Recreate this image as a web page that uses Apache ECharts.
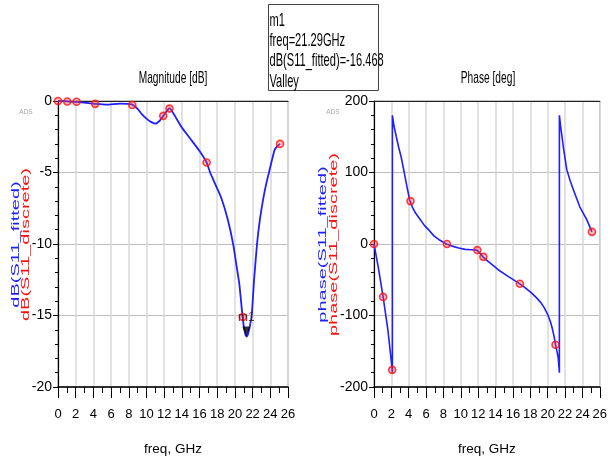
<!DOCTYPE html>
<html>
<head>
<meta charset="utf-8">
<script src="https://cdn.jsdelivr.net/npm/echarts@6/dist/echarts.min.js"></script>
<style>
html,body{margin:0;padding:0;background:#fff;}
#chart{width:610px;height:461px;}
</style>
</head>
<body>
<div id="chart"></div>
<script>
// ---- data ----
const xTicks = [0, 2, 4, 6, 8, 10, 12, 14, 16, 18, 20, 22, 24, 26];
const magTicks = [-20, -15, -10, -5, 0];
const phaseTicks = [-200, -100, 0, 100, 200];

const magFreq = [0, 1, 2, 3, 4.2, 5.5, 7, 8.4, 9, 9.5, 10, 10.5, 11, 11.5, 11.9, 12.3, 12.6, 13, 14, 15, 16, 16.8, 17.2, 17.8, 18.5, 19.2, 19.8, 20.2, 20.5, 20.85, 21.0, 21.15, 21.29, 21.45, 21.6, 21.75, 21.9, 22.15, 22.5, 22.8, 23.2, 23.5, 23.85, 24.2, 24.5, 24.8, 25.1];
const magFitted = [0, -0.03, -0.06, -0.12, -0.2, -0.26, -0.18, -0.25, -0.55, -0.93, -1.23, -1.46, -1.58, -1.38, -1.04, -0.7, -0.5, -0.82, -1.86, -2.67, -3.5, -4.3, -5.0, -5.85, -6.85, -8.3, -10, -11.6, -12.8, -15, -15.75, -16.25, -16.468, -16.35, -16.0, -15.55, -15, -12.65, -10, -8.4, -6.85, -5.9, -5.0, -4.1, -3.4, -3.15, -3.0];

const phaseFreq = [0, 0.5, 1.05, 1.6, 2.1, 2.12, 2.12, 2.3, 2.57, 2.85, 3.14, 3.45, 3.8, 4.1, 4.4, 4.8, 5.22, 5.8, 6.36, 6.93, 7.49, 8.35, 9.0, 9.76, 10.5, 11.2, 11.85, 12.2, 12.55, 13.0, 13.6, 14.3, 15.4, 16.75, 17.5, 18.1, 18.7, 19.22, 19.6, 19.98, 20.3, 20.55, 20.75, 20.9, 21.1, 21.2, 21.3, 21.35, 21.35, 21.38, 21.5, 21.85, 22.2, 22.6, 22.96, 23.7, 24.5, 25.1];
const phaseFitted = [0, -33, -74, -120, -176, -180, 180, 165, 150, 135, 121, 102, 80, 62, 52, 43, 36, 26, 19, 11, 6, 0, -3, -5.6, -7.5, -8, -8.5, -13, -18, -23, -29, -36, -45, -55.5, -62, -68, -75, -82, -89, -98, -108, -119, -130, -141, -152, -158, -172, -180, 180, 178, 164, 132, 104, 88, 76, 52, 34, 17];

const discreteFreq = [0, 1.05, 2.1, 4.2, 8.4, 11.9, 12.6, 16.8, 20.9, 25.1];
const magDiscrete = [0, -0.03, -0.05, -0.2, -0.28, -1.04, -0.53, -4.3, -15.1, -3.0];
const phaseDiscrete = [0, -74, -176, 60, 0, -8.5, -18, -55.5, -141, 17];

const markerName = 'm1';
const markerFreq = 21.29;
const markerValue = -16.468;
const markerType = 'Valley';

// ---- styling ----
const REG = '"Liberation Sans",Arial,sans-serif';
const BLUE = '#1f1fff';
const RED = '#ff1010';

const zip = (a, b) => a.map((v, i) => [v, b[i]]);

const chart = echarts.init(document.getElementById('chart'));

function bottomX(gridIndex) {
  return {
    gridIndex, type: 'value', min: xTicks[0], max: xTicks[xTicks.length - 1], interval: xTicks[1] - xTicks[0],
    axisLine: { show: true, onZero: false, lineStyle: { color: '#000', width: 1.5 } },
    axisTick: { show: true, length: 11, lineStyle: { color: '#000', width: 1 } },
    minorTick: { show: true, splitNumber: 2, length: 6, lineStyle: { color: '#000', width: 1 } },
    splitLine: { show: true, lineStyle: { color: '#d9d9d9', width: 1.5 } },
    axisLabel: { color: '#000', fontFamily: REG, fontSize: 13, margin: 21 },
    name: 'freq, GHz', nameLocation: 'middle', nameGap: 55,
    nameTextStyle: { color: '#000', fontFamily: REG, fontSize: 13.5 }
  };
}
function topX(gridIndex) {
  return {
    gridIndex, type: 'value', position: 'top', min: xTicks[0], max: xTicks[xTicks.length - 1],
    axisLine: { show: true, onZero: false, lineStyle: { color: '#222', width: 1.2 } },
    axisTick: { show: false }, axisLabel: { show: false }, splitLine: { show: false }
  };
}
function leftY(gridIndex, ticks) {
  return {
    gridIndex, type: 'value', min: ticks[0], max: ticks[ticks.length - 1], interval: ticks[1] - ticks[0],
    axisLine: { show: true, onZero: false, lineStyle: { color: '#000', width: 1.2 } },
    axisTick: { show: true, length: 5, lineStyle: { color: '#000' } },
    minorTick: { show: true, splitNumber: 5, length: 3, lineStyle: { color: '#000' } },
    splitLine: { show: true, lineStyle: { color: '#bdbdbd', width: 1.2 } },
    axisLabel: { color: '#000', fontFamily: REG, fontSize: 14, margin: 6 }
  };
}

const discreteStyle = {
  type: 'scatter', symbol: 'circle', symbolSize: 7, z: 4,
  itemStyle: { color: 'rgba(255,70,70,0.45)', borderColor: RED, borderWidth: 1.6 }
};

function rotName(x, text, color) {
  return {
    type: 'text', x: x, y: 244.5, rotation: Math.PI / 2, scaleY: 0.55,
    style: { text: text, fill: color, fontFamily: REG, fontSize: 20, align: 'center', verticalAlign: 'middle' }
  };
}
function squeezed(x, y, text, size, align) {
  return {
    type: 'text', x: x, y: y, scaleX: 0.6,
    style: { text: text, fill: '#000', fontFamily: REG, fontSize: size, align: align || 'center', verticalAlign: 'middle' }
  };
}

const option = {
  backgroundColor: '#fff',
  animation: false,
  grid: [
    { left: 58, top: 101, width: 230, height: 287, show: true, borderColor: '#8a8a8a', borderWidth: 1, backgroundColor: '#fff' },
    { left: 374, top: 101, width: 229, height: 287, show: true, borderColor: '#8a8a8a', borderWidth: 1, backgroundColor: '#fff' }
  ],
  xAxis: [bottomX(0), bottomX(1), topX(0), topX(1)],
  yAxis: [leftY(0, magTicks), leftY(1, phaseTicks)],
  series: [
    {
      name: 'dB(S11_fitted)', type: 'line', xAxisIndex: 0, yAxisIndex: 0,
      data: zip(magFreq, magFitted), showSymbol: false, smooth: 0.2, z: 3,
      lineStyle: { color: BLUE, width: 1.8 }
    },
    Object.assign({ name: 'dB(S11_discrete)', xAxisIndex: 0, yAxisIndex: 0, data: zip(discreteFreq, magDiscrete) }, discreteStyle),
    {
      name: markerName, type: 'scatter', xAxisIndex: 0, yAxisIndex: 0, z: 5,
      data: [[markerFreq, markerValue]],
      symbol: 'triangle', symbolRotate: 180, symbolSize: [8, 10], symbolOffset: [0, -5],
      itemStyle: { color: '#000' },
      label: { show: true, formatter: markerName, position: 'top', distance: 3, color: '#3a1010', fontFamily: REG, fontSize: 12 }
    },
    {
      name: 'phase(S11_fitted)', type: 'line', xAxisIndex: 1, yAxisIndex: 1,
      data: zip(phaseFreq, phaseFitted), showSymbol: false, smooth: false, z: 3,
      lineStyle: { color: BLUE, width: 1.6 }
    },
    Object.assign({ name: 'phase(S11_discrete)', xAxisIndex: 1, yAxisIndex: 1, data: zip(discreteFreq, phaseDiscrete) }, discreteStyle)
  ],
  graphic: [
    squeezed(173, 78, 'Magnitude [dB]', 17),
    squeezed(488, 78, 'Phase [deg]', 17),
    rotName(16, 'dB(S11_fitted)', BLUE),
    rotName(26, 'dB(S11_discrete)', RED),
    rotName(323, 'phase(S11_fitted)', BLUE),
    rotName(334, 'phase(S11_discrete)', RED),
    { type: 'text', x: 26, y: 112, style: { text: 'ADS', fill: '#a8a8a8', fontFamily: REG, fontSize: 6.5, align: 'center', verticalAlign: 'middle' } },
    { type: 'text', x: 333, y: 112, style: { text: 'ADS', fill: '#a8a8a8', fontFamily: REG, fontSize: 6.5, align: 'center', verticalAlign: 'middle' } },
    { type: 'rect', shape: { x: 268.5, y: 4.5, width: 110, height: 86 }, style: { fill: '#fff', stroke: '#444', lineWidth: 1 } },
    {
      type: 'text', x: 269.5, y: 10.5, scaleX: 0.6,
      style: {
        text: markerName + '\nfreq=' + markerFreq + 'GHz\ndB(S11_fitted)=' + markerValue + '\n' + markerType,
        fill: '#000', fontFamily: REG, fontSize: 18.5, lineHeight: 20.3, align: 'left', verticalAlign: 'top'
      }
    }
  ]
};
chart.setOption(option);
</script>
</body>
</html>
